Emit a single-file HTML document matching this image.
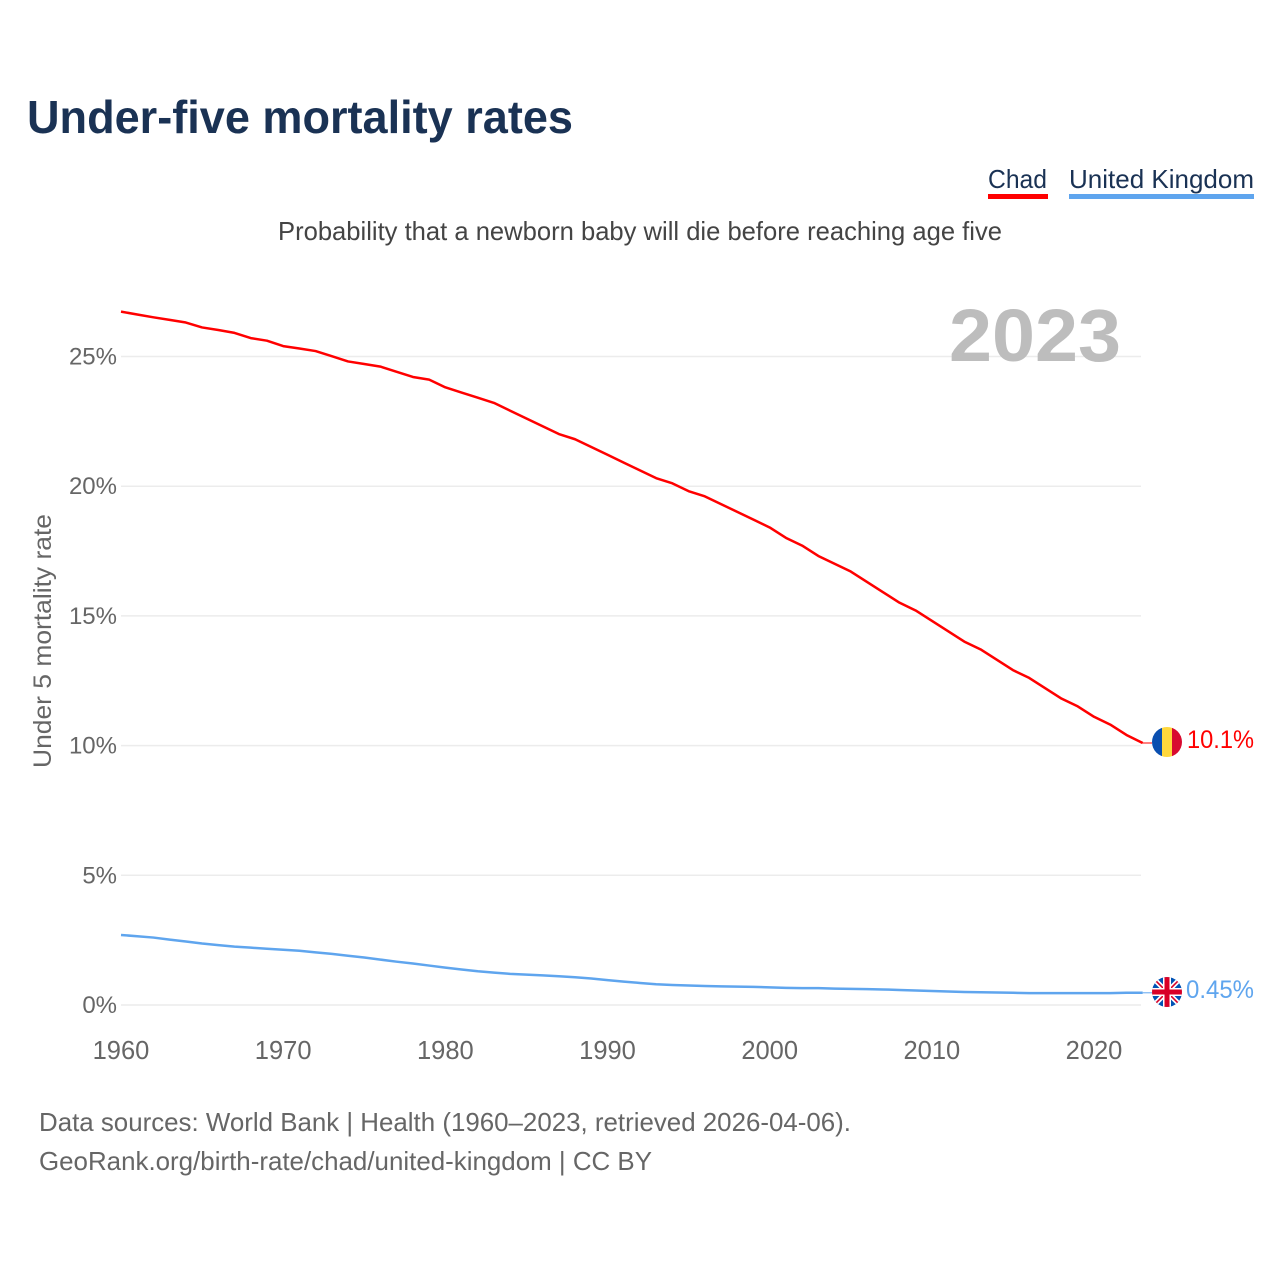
<!DOCTYPE html>
<html lang="en">
<head>
<meta charset="utf-8">
<title>Under-five mortality rates</title>
<style>
html,body{margin:0;padding:0;background:#fff;width:1280px;height:1280px;overflow:hidden}
svg{display:block}
text{font-family:"Liberation Sans",Arial,sans-serif}
</style>
</head>
<body>
<svg id="chart" xmlns="http://www.w3.org/2000/svg" width="1280" height="1280" viewBox="0 0 1280 1280">
  <defs>
    <clipPath id="flag-clip-a"><circle cx="1167" cy="742" r="15"/></clipPath>
    <clipPath id="flag-clip-b"><circle cx="1167" cy="992" r="15"/></clipPath>
  </defs>
  <text x="27" y="133" font-size="46" font-weight="700" fill="#1a3254" textLength="546" lengthAdjust="spacingAndGlyphs">Under-five mortality rates</text>

  <g>
    <text x="988" y="188" font-size="26" fill="#1a3254" textLength="59" lengthAdjust="spacingAndGlyphs">Chad</text>
    <rect x="988" y="194" width="60" height="5" fill="#ff0000"/>
  </g>
  <g>
    <text x="1069" y="188" font-size="26" fill="#1a3254" textLength="185" lengthAdjust="spacingAndGlyphs">United Kingdom</text>
    <rect x="1069" y="194" width="185" height="5" fill="#5fa5ee"/>
  </g>

  <text x="278" y="240" font-size="26" fill="#444" textLength="724" lengthAdjust="spacingAndGlyphs">Probability that a newborn baby will die before reaching age five</text>

  <g id="grid"></g>
  <g id="y-ticks"></g>
  <g id="x-ticks"></g>

  <text x="949" y="361" font-size="74" font-weight="700" fill="#bdbdbd" textLength="172" lengthAdjust="spacingAndGlyphs">2023</text>

  <text transform="translate(51,768) rotate(-90)" font-size="25" fill="#666" textLength="254" lengthAdjust="spacingAndGlyphs">Under 5 mortality rate</text>

  <g id="series"></g>

  <g clip-path="url(#flag-clip-a)">
    <rect x="1152" y="727" width="10" height="30" fill="#0a4fb0"/>
    <rect x="1162" y="727" width="10" height="30" fill="#ffd83d"/>
    <rect x="1172" y="727" width="10" height="30" fill="#d80b30"/>
  </g>
  <text id="end-label-chad" x="1254" y="748" text-anchor="end" font-size="25" fill="#ff0000" textLength="67" lengthAdjust="spacingAndGlyphs">10.1%</text>

  <g clip-path="url(#flag-clip-b)">
    <rect x="1152" y="977" width="30" height="30" fill="#0052b4"/>
    <line x1="1152" y1="977" x2="1182" y2="1007" stroke="#fff" stroke-width="5"/>
    <line x1="1182" y1="977" x2="1152" y2="1007" stroke="#fff" stroke-width="5"/>
    <line x1="1152" y1="977" x2="1182" y2="1007" stroke="#d80027" stroke-width="1.6"/>
    <line x1="1182" y1="977" x2="1152" y2="1007" stroke="#d80027" stroke-width="1.6"/>
    <rect x="1163" y="977" width="8" height="30" fill="#fff"/>
    <rect x="1152" y="988" width="30" height="8" fill="#fff"/>
    <rect x="1164.5" y="977" width="5" height="30" fill="#d80027"/>
    <rect x="1152" y="989.5" width="30" height="5" fill="#d80027"/>
  </g>
  <text id="end-label-uk" x="1254" y="998" text-anchor="end" font-size="25" fill="#5fa5ee" textLength="68" lengthAdjust="spacingAndGlyphs">0.45%</text>

  <text x="39" y="1131" font-size="26" fill="#666" textLength="812" lengthAdjust="spacingAndGlyphs">Data sources: World Bank | Health (1960–2023, retrieved 2026-04-06).</text>
  <text x="39" y="1170" font-size="26" fill="#666" textLength="613" lengthAdjust="spacingAndGlyphs">GeoRank.org/birth-rate/chad/united-kingdom | CC BY</text>
</svg>
<script>
const startYear = 1960;
const chadValues = [26.73,26.62,26.51,26.41,26.31,26.12,26.02,25.91,25.71,25.61,25.4,25.31,25.21,25.01,24.81,24.71,24.61,24.41,24.21,24.11,23.81,23.61,23.41,23.21,22.91,22.61,22.31,22.01,21.81,21.51,21.21,20.91,20.61,20.31,20.11,19.81,19.61,19.31,19.01,18.71,18.41,18.01,17.71,17.31,17.01,16.71,16.31,15.91,15.51,15.21,14.81,14.41,14.01,13.71,13.31,12.91,12.61,12.21,11.81,11.51,11.11,10.81,10.41,10.1];
const ukValues = [2.7,2.65,2.6,2.52,2.45,2.37,2.31,2.25,2.21,2.17,2.13,2.09,2.03,1.97,1.9,1.83,1.75,1.67,1.6,1.52,1.44,1.37,1.3,1.25,1.2,1.17,1.14,1.11,1.07,1.02,0.96,0.9,0.85,0.8,0.77,0.75,0.73,0.72,0.71,0.7,0.68,0.66,0.65,0.65,0.63,0.62,0.61,0.6,0.58,0.56,0.54,0.52,0.5,0.49,0.48,0.47,0.46,0.46,0.46,0.46,0.46,0.46,0.47,0.47];
const yTickValues = [0,5,10,15,20,25];
const xTickValues = [1960,1970,1980,1990,2000,2010,2020];

const NS = 'http://www.w3.org/2000/svg';
function xScale(year){ return 121 + (year - 1960) * 16.217; }
function yScale(v){ return 1005 - v * 25.94; }
function make(tag, attrs, parent){
  const el = document.createElementNS(NS, tag);
  for (const k in attrs) el.setAttribute(k, attrs[k]);
  parent.appendChild(el);
  return el;
}
const gridG = document.getElementById('grid');
const yG = document.getElementById('y-ticks');
const xG = document.getElementById('x-ticks');
const seriesG = document.getElementById('series');

yTickValues.forEach(function(t){
  const line = make('line', {x1:121, x2:1141, y1:yScale(t), y2:yScale(t), stroke:'#ececec', 'stroke-width':1.5}, gridG);
  
  
  const label = make('text', {x:117, y:yScale(t)+8, 'text-anchor':'end', 'font-size':24, fill:'#666'}, yG);
  
  
  label.textContent = t + '%';
});
xTickValues.forEach(function(t){
  const label = make('text', {x:xScale(t), y:1059, 'text-anchor':'middle', 'font-size':25.5, fill:'#666'}, xG);
  
  
  label.textContent = t;
});
function drawSeries(values, color, name){
  const pts = values.map(function(v,i){ return xScale(startYear+i).toFixed(2)+','+yScale(v).toFixed(2); }).join(' ');
  const line = make('polyline', {points:pts, fill:'none', stroke:color, 'stroke-width':2.5, 'stroke-linejoin':'round'}, seriesG);
  
  
  const last = values[values.length-1];
  const y = yScale(last);
  const x = xScale(startYear+values.length-1);
  const conn = make('line', {x1:x, x2:1152, y1:y, y2:y, stroke:color, 'stroke-width':1}, seriesG);
  
  
}
drawSeries(chadValues, '#ff0000', 'line-chad');
drawSeries(ukValues, '#5fa5ee', 'line-united-kingdom');
</script>
</body>
</html>
